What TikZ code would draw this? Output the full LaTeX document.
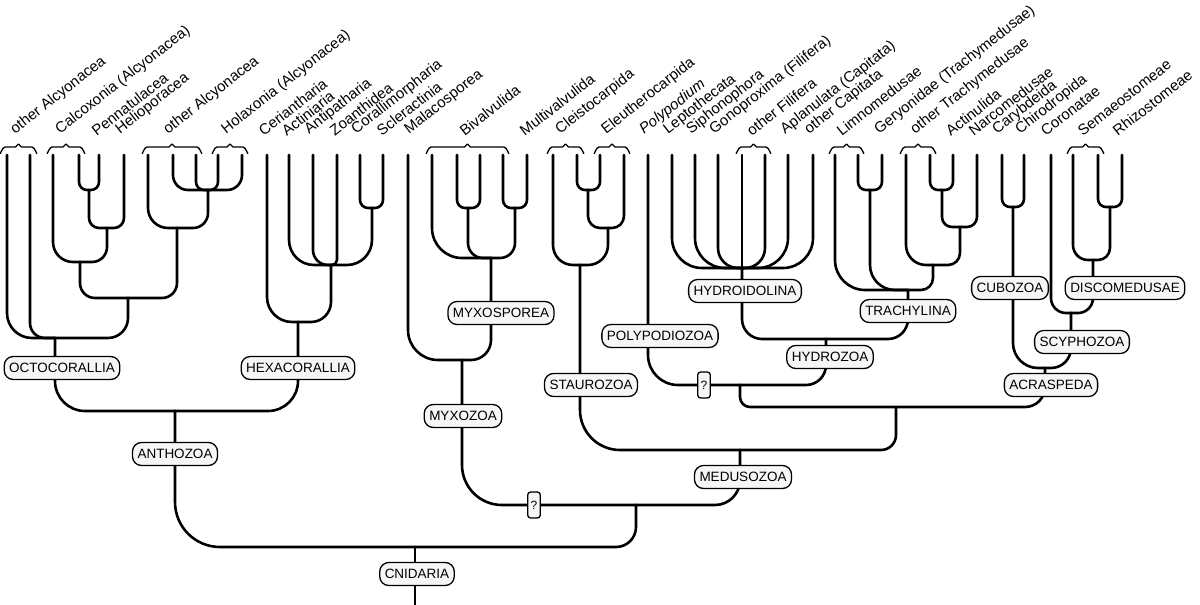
\documentclass[tikz,border=0pt]{standalone}
\usepackage{fontspec}
\setmainfont{Liberation Sans}
\tikzset{
  br/.style={line width=2.6pt, line cap=round, rounded corners=#1pt},
  br/.default=8,
  clade/.style={draw, line width=1.3pt, fill=gray!7, rounded corners=9pt,
    inner xsep=5pt, inner ysep=0pt, minimum height=23pt,
    font=\fontsize{13.5}{13.5}\selectfont},
  unk/.style={clade, rounded corners=3pt, inner xsep=3pt, minimum height=26pt,
    font=\fontsize{12}{12}\selectfont},
  taxon/.style={anchor=south west, rotate=38, inner sep=0pt,
    font=\fontsize{15}{15}\selectfont},
  brace/.style={line width=1.3pt, line cap=round}
}
\begin{document}
\begin{tikzpicture}[x=1pt, y=-1pt, line join=round]
\useasboundingbox (0,0) rectangle (1200,605);
% leaf tips
\foreach \x in {7,30,53,79,99,124,148,173,196,218,242,267,289,313,337,360,383,
  408,432,457,480,503,527,553,577,600,624,648,672,695,718,742,765,788,813,
  835,858,882,906,930,953,977,1002,1024,1051,1073,1098,1122}
  \coordinate (l\x) at (\x,155);
% internal joins
\path (89,190) coordinate (o1) (107,228) coordinate (o2) (80,262) coordinate (o3)
  (208,190) coordinate (o4) (177,228) coordinate (o5) (128,298) coordinate (o6)
  (55,338) coordinate (o7)
  (372,208) coordinate (h1) (331,265) coordinate (h2) (298,322) coordinate (h3)
  (175,411) coordinate (a1)
  (468,208) coordinate (m1) (515,208) coordinate (m2) (491,258) coordinate (m3)
  (462,360) coordinate (m4)
  (588,190) coordinate (s1) (608,228) coordinate (s2) (580,265) coordinate (s3)
  (742,268) coordinate (y1)
  (870,190) coordinate (t1) (942,190) coordinate (t2) (960,227) coordinate (t3)
  (933,265) coordinate (t4) (908,290) coordinate (t5)
  (826,339) coordinate (y2) (740,385) coordinate (p1)
  (1013,207) coordinate (c1) (1110,207) coordinate (d1) (1093,260) coordinate (d2)
  (1071,313) coordinate (sc) (1045,368) coordinate (ac)
  (896,407) coordinate (k1) (740,450) coordinate (me)
  (636,505) coordinate (q) (415,547) coordinate (cn) (415,605) coordinate (root);
% Octocorallia
\foreach \a/\b/\r in {l79/o1/8,l99/o1/8,o1/o2/10,l124/o2/10,l53/o3/20,o2/o3/15,
  l173/o4/15,l196/o4/8,l218/o4/8,l242/o4/15,l148/o5/20,o4/o5/15,o3/o6/15,o5/o6/15,
  l7/o7/25,l30/o7/15,o6/o7/20}
  \draw[br=\r] (\a) |- (\b);
% Hexacorallia, Anthozoa
\foreach \a/\b/\r in {l360/h1/8,l383/h1/8,l289/h2/25,l313/h2/15,l337/h2/5,h1/h2/25,
  l267/h3/25,h2/h3/20,o7/a1/30,h3/a1/30}
  \draw[br=\r] (\a) |- (\b);
% Myxozoa
\foreach \a/\b/\r in {l457/m1/8,l480/m1/8,l503/m2/8,l527/m2/8,l432/m3/30,m1/m3/15,
  m2/m3/15,l408/m4/30,m3/m4/20}
  \draw[br=\r] (\a) |- (\b);
% Staurozoa, Hydrozoa
\foreach \a/\b/\r in {l577/s1/8,l600/s1/8,s1/s2/12,l624/s2/12,l553/s3/20,s2/s3/20,
  l672/y1/30,l695/y1/30,l718/y1/20,l742/y1/8,l765/y1/20,l788/y1/30,l813/y1/30,
  l858/t1/8,l882/t1/8,l930/t2/8,l953/t2/8,t2/t3/10,l977/t3/10,l906/t4/20,t3/t4/12,
  l835/t5/30,t1/t5/25,t4/t5/12,y1/y2/20,t5/y2/20,l648/p1/30,y2/p1/20}
  \draw[br=\r] (\a) |- (\b);
% Acraspeda, Medusozoa, Cnidaria
\foreach \a/\b/\r in {l1002/c1/8,l1024/c1/8,l1098/d1/8,l1122/d1/8,l1073/d2/15,d1/d2/12,
  l1051/sc/15,d2/sc/15,c1/ac/25,sc/ac/20,p1/k1/10,ac/k1/20,s3/me/40,k1/me/15,
  m4/q/40,me/q/25,a1/cn/45,q/cn/20}
  \draw[br=\r] (\a) |- (\b);
\draw[br] (cn) -- (root);
% braces over grouped tips
\foreach \u/\v in {0/37,47/85,142/202,212/248,426/509,547/584,594/630,736/771,
  829/864,900/936,1067/1104}
  \draw[brace] (\u,153) to[out=-90,in=180] (\u+5,147) -- ({(\u+\v)/2-3},147)
    -- ({(\u+\v)/2},144) -- ({(\u+\v)/2+3},147) -- (\v-5,147)
    to[out=0,in=-90] (\v,153);
% tip names
\foreach \x/\t [count=\i] in {17/other Alcyonacea,62/{Calcoxonia (Alcyonacea)},
  97/Pennatulacea,122/Helioporacea,170/other Alcyonacea,
  228/{Holaxonia (Alcyonacea)},264/Ceriantharia,287/Actiniaria,
  311/Antipatharia,335/Zoanthidea,358/Corallimorpharia,382/Scleractinia,
  411/Malacosporea,465/Bivalvulida,525/Multivalvulida,562/Cleistocarpida,
  608/Eleutherocarpida,646/\textit{Polypodium},670/Leptothecata,
  693/Siphonophora,716/{Gonoproxima (Filifera)},752/other Filifera,
  787/{Aplanulata (Capitata)},811/other Capitata,842/Limnomedusae,
  881/{Geryonidae (Trachymedusae)},917/other Trachymedusae,951/Actinulida,
  974/Narcomedusae,999/Carybdeida,1022/Chirodropida,1046/Coronatae,
  1083/Semaeostomeae,1118/Rhizostomeae}
  \node[taxon] (tip\i) at (\x,137) {\t};
% clade names
\node[clade] (octo) at (62,368) {OCTOCORALLIA};
\node[clade] (hexa) at (298,368) {HEXACORALLIA};
\node[clade] (antho) at (175,454) {ANTHOZOA};
\node[clade] (cnid) at (417,574) {CNIDARIA};
\node[clade] (myxosp) at (501,313) {MYXOSPOREA};
\node[clade] (myxoz) at (463,416) {MYXOZOA};
\node[unk] (unkA) at (534,505) {?};
\node[clade] (medu) at (743,477) {MEDUSOZOA};
\node[clade] (stau) at (591,385) {STAUROZOA};
\node[clade] (poly) at (660,336) {POLYPODIOZOA};
\node[unk] (unkB) at (704,385) {?};
\node[clade] (hydroid) at (745,291) {HYDROIDOLINA};
\node[clade] (hydro) at (830,357) {HYDROZOA};
\node[clade] (trachy) at (908,311) {TRACHYLINA};
\node[clade] (cubo) at (1010,288) {CUBOZOA};
\node[clade] (disco) at (1125,288) {DISCOMEDUSAE};
\node[clade] (scypho) at (1082,342) {SCYPHOZOA};
\node[clade] (acras) at (1051,385) {ACRASPEDA};
\end{tikzpicture}
\end{document}
